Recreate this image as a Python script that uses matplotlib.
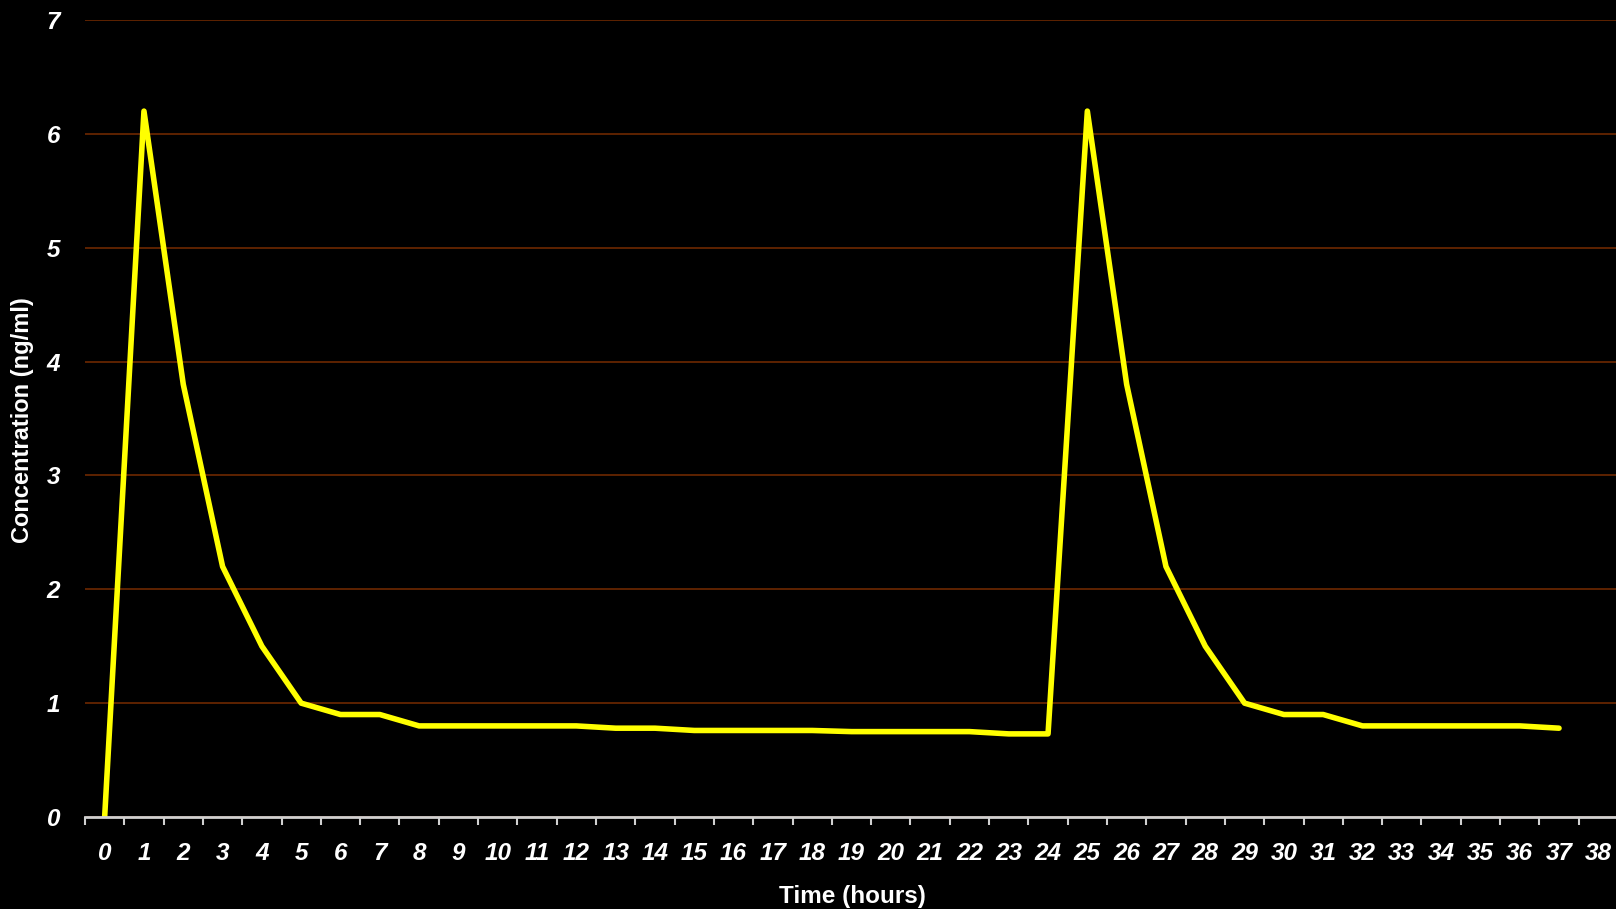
import matplotlib
matplotlib.use("Agg")
import matplotlib.pyplot as plt
import numpy as np

hours = list(range(0, 38))
concentration = [0.0, 6.2, 3.8, 2.2, 1.5, 1.0, 0.9, 0.9, 0.8, 0.8,
                 0.8, 0.8, 0.8, 0.78, 0.78, 0.76, 0.76, 0.76, 0.76, 0.75,
                 0.75, 0.75, 0.75, 0.73, 0.73, 6.2, 3.8, 2.2, 1.5, 1.0,
                 0.9, 0.9, 0.8, 0.8, 0.8, 0.8, 0.8, 0.78]
tick_labels = [str(i) for i in range(0, 39)]
y_ticks = [0, 1, 2, 3, 4, 5, 6, 7]

plt.rcParams['font.family'] = ['Liberation Sans', 'DejaVu Sans']

fig = plt.figure(figsize=(16.16, 9.09), dpi=100, facecolor='black')
ax = fig.add_axes([85/1616, (909-817)/909, (1618-85)/1616, (817-20)/909])
ax.set_facecolor('black')

ax.plot(hours, concentration, color='#FFFF00', lw=4.0,
        solid_capstyle='round', solid_joinstyle='round', zorder=3)

ax.set_xlim(-0.5, 38.5)
ax.set_ylim(0, 7)

# x: tick marks at category boundaries, labels at centers
ax.set_xticks(np.arange(-0.5, 39, 1.0))
ax.set_xticklabels([])
ax.set_xticks(range(0, 39), minor=True)
ax.set_xticklabels(tick_labels, minor=True, fontsize=17.5,
                   fontweight='bold', fontstyle='italic', color='white')
ax.tick_params(axis='x', which='major', length=6, width=1.5,
               color='#D0D0D0', direction='out')
ax.tick_params(axis='x', which='minor', length=0, pad=18)

ax.set_yticks(y_ticks)
ax.set_yticklabels([str(v) for v in y_ticks], fontsize=17.5,
                   fontweight='bold', fontstyle='italic', color='white')
ax.tick_params(axis='y', length=0, pad=18)

ax.yaxis.grid(True, color='#6E2800', lw=1.2)
ax.set_axisbelow(True)

for s in ['top', 'right', 'left']:
    ax.spines[s].set_visible(False)
ax.spines['bottom'].set_color('#D0D0D0')
ax.spines['bottom'].set_linewidth(2)
ax.spines['bottom'].set_zorder(4)

fig.text(852/1616, 1 - 897/909, 'Time (hours)', ha='center', va='center',
         fontsize=17.5, fontweight='bold', color='white')
fig.text(23/1616, 1 - 420/909, 'Concentration (ng/ml)', ha='center',
         va='center', rotation=90, fontsize=17, fontweight='bold',
         color='white')

fig.savefig('out.png', dpi=100, facecolor='black')
